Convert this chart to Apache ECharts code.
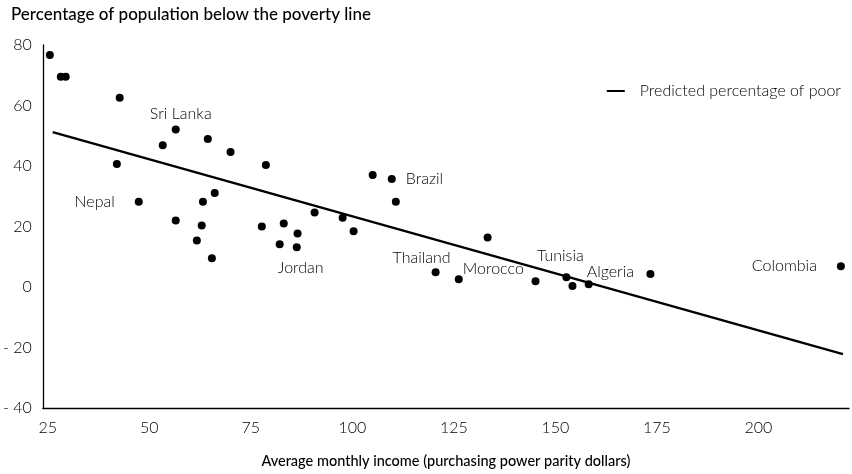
<!DOCTYPE html>
<html>
<head>
<meta charset="utf-8">
<script src="https://cdn.jsdelivr.net/npm/echarts@6/dist/echarts.min.js"></script>
<style>
  html, body { margin: 0; padding: 0; background: #fff; }
  #chart { width: 852px; height: 474px; }
</style>
</head>
<body>
<div id="chart"></div>
<script>
// Average monthly income (PPP dollars) per country observation
const income = [
  25.5, 28.2, 29.4, 42.7, 53.3, 56.5, 64.4, 70.0, 42.0, 78.7,
  47.4, 63.2, 66.1, 56.5, 62.9, 61.7, 65.4, 77.7, 83.1, 86.5,
  82.1, 86.3, 90.7, 97.6, 100.3, 105.0, 109.7, 110.7, 133.3, 120.5,
  126.2, 145.1, 152.7, 154.2, 158.2, 173.4, 220.3
];
// Percentage of population below the poverty line
const poorPct = [
  76.7, 69.5, 69.5, 62.6, 46.9, 52.1, 48.9, 44.6, 40.7, 40.3,
  28.2, 28.2, 31.1, 22.0, 20.3, 15.4, 9.5, 20.0, 21.0, 17.7,
  14.1, 13.1, 24.6, 22.9, 18.4, 37.0, 35.7, 28.2, 16.4, 4.9,
  2.6, 1.9, 3.2, 0.3, 0.9, 4.3, 6.9
];
// Country names for the labelled observations ('' = unlabelled)
const country = [
  '', '', '', '', '', 'Sri Lanka', '', '', '', '',
  'Nepal', '', '', '', '', '', '', '', '', '',
  '', 'Jordan', '', '', '', '', 'Brazil', '', '', 'Thailand',
  'Morocco', '', 'Tunisia', '', 'Algeria', '', 'Colombia'
];
// Fitted regression line end points
const fitIncome = [26.2, 220.8];
const fitPct = [51.2, -22.2];

const xTicks = [25, 50, 75, 100, 125, 150, 175, 200];

const FONT = 'Lato';
const TEXT = '#000';
const LIGHT = 300;

// where each country name sits relative to its dot
const labelPlace = {
  'Sri Lanka': { position: 'top', distance: 4, offset: [5, 0] },
  'Nepal': { position: 'left', distance: 20 },
  'Jordan': { position: 'bottom', distance: 8, offset: [4, 0] },
  'Brazil': { position: 'right', distance: 10 },
  'Thailand': { position: 'top', distance: 2, offset: [-14, 0] },
  'Morocco': { position: 'right', distance: 0, offset: [0, -10] },
  'Tunisia': { position: 'top', distance: 9, offset: [-6, 0] },
  'Algeria': { position: 'right', distance: -6, offset: [0, -12] },
  'Colombia': { position: 'left', distance: 20 }
};

const points = income.map((x, i) => {
  const item = { value: [x, poorPct[i]] };
  const name = country[i];
  if (name) {
    item.label = Object.assign({
      show: true,
      formatter: name,
      color: TEXT,
      fontFamily: FONT,
      fontSize: 16,
      fontWeight: LIGHT
    }, labelPlace[name]);
  }
  return item;
});

const chart = echarts.init(document.getElementById('chart'));
chart.setOption({
  animation: false,
  backgroundColor: '#ffffff',
  textStyle: { fontFamily: FONT, color: TEXT },
  title: {
    text: 'Percentage of population below the poverty line',
    left: 6,
    top: 1,
    textStyle: { fontFamily: FONT, fontSize: 17, fontWeight: 500, color: '#000' }
  },
  legend: {
    right: 6,
    top: 78,
    itemWidth: 18,
    itemHeight: 10,
    itemGap: 0,
    textStyle: { fontFamily: FONT, fontSize: 16, fontWeight: LIGHT, color: TEXT, padding: [0, 0, 0, 10] },
    data: [{ name: 'Predicted percentage of poor', icon: 'path://M0,4 L18,4 L18,6 L0,6 Z', itemStyle: { color: '#000' } }]
  },
  grid: { left: 42, right: 3, top: 45, bottom: 63 },
  xAxis: {
    type: 'value',
    min: 23.77,
    max: 222.3,
    name: 'Average monthly income (purchasing power parity dollars)',
    nameLocation: 'middle',
    nameGap: 46,
    nameTextStyle: { fontFamily: FONT, fontSize: 14.5, fontWeight: 500, color: '#000' },
    axisLine: { show: true, onZero: false, lineStyle: { color: '#000', width: 1.3 } },
    axisTick: { show: false },
    splitLine: { show: false },
    axisLabel: {
      customValues: xTicks,
      margin: 12,
      fontFamily: FONT,
      fontSize: 16,
      fontWeight: LIGHT,
      color: TEXT
    }
  },
  yAxis: {
    type: 'value',
    min: -40,
    max: 80,
    interval: 20,
    axisLine: { show: true, onZero: false, lineStyle: { color: '#000', width: 1.3 } },
    axisTick: { show: false },
    splitLine: { show: false },
    axisLabel: {
      margin: 11,
      fontFamily: FONT,
      fontSize: 16,
      fontWeight: LIGHT,
      color: TEXT,
      formatter: v => (v < 0 ? '- ' + Math.abs(v) : String(v))
    }
  },
  series: [
    {
      type: 'scatter',
      name: 'Countries',
      symbol: 'circle',
      symbolSize: 8,
      itemStyle: { color: '#000', opacity: 1 },
      data: points,
      z: 3
    },
    {
      type: 'line',
      name: 'Predicted percentage of poor',
      data: fitIncome.map((x, i) => [x, fitPct[i]]),
      showSymbol: false,
      symbol: 'none',
      lineStyle: { color: '#000', width: 2.5 },
      z: 2
    }
  ]
});
</script>
</body>
</html>
